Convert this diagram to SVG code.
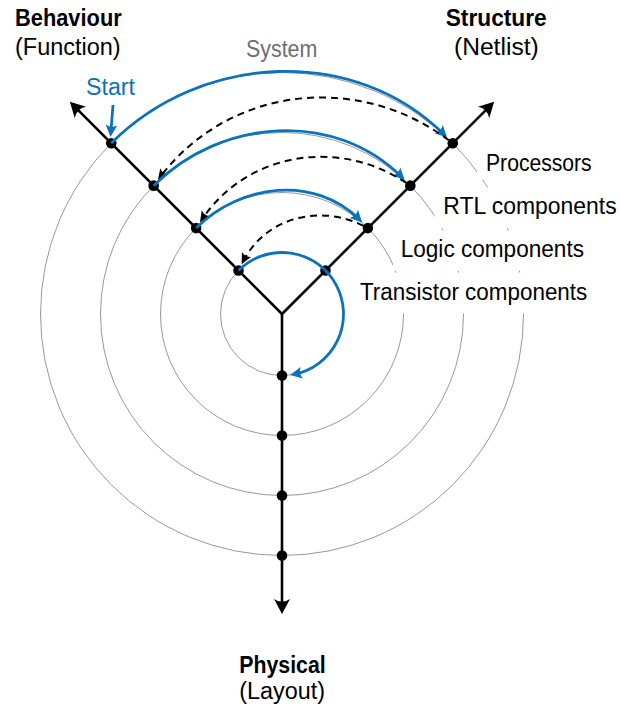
<svg xmlns="http://www.w3.org/2000/svg" width="620" height="711" viewBox="0 0 620 711">
<style>
  .circ { fill: none; stroke: #8c8c8c; stroke-width: 0.9; }
  .axis { fill: none; stroke: #000; stroke-width: 2.6; marker-end: url(#axh); }
  .blue { fill: none; stroke: #0b72bb; stroke-width: 2.8; marker-end: url(#bh); }
  .dash { fill: none; stroke: #000; stroke-width: 2; stroke-dasharray: 7 5; marker-end: url(#dh); }
  .dot { fill: #000; }
  .lbl { font-family: "Liberation Sans", Arial, sans-serif; font-size: 23.5px; fill: #000; }
  .b { font-weight: bold; }
  .box { fill: #fff; stroke: none; }
</style>
<defs>
  <marker id="axh" markerUnits="userSpaceOnUse" viewBox="-17 -10 19 20" markerWidth="19" markerHeight="20" refX="-5" refY="0" orient="auto">
    <path d="M0,0 L-15,-8 Q-9.5,0 -15,8 Z" fill="#000"/>
  </marker>
  <marker id="bh" markerUnits="userSpaceOnUse" viewBox="-14 -8 16 16" markerWidth="16" markerHeight="16" refX="-4" refY="0" orient="auto">
    <path d="M0,0 L-12,-5.8 Q-8.5,0 -12,5.8 Z" fill="#0b72bb"/>
  </marker>
  <marker id="dh" markerUnits="userSpaceOnUse" viewBox="-14 -8 16 16" markerWidth="16" markerHeight="16" refX="-3" refY="0" orient="auto">
    <path d="M0,0 L-11,-5.2 Q-7.5,0 -11,5.2 Z" fill="#000"/>
  </marker>
</defs>
<rect width="620" height="711" fill="#fff"/>

<g id="circles">
  <circle class="circ" cx="282" cy="314" r="61.5"/>
  <circle class="circ" cx="282" cy="314" r="121.5"/>
  <circle class="circ" cx="282" cy="314" r="181.5"/>
  <circle class="circ" cx="282" cy="314" r="241.5"/>
</g>

<g id="level-labels">
  <g id="label-processors">
    <rect class="box" x="477" y="144" width="124" height="35.5"/>
    <text class="lbl" x="486" y="170.7" textLength="105.7" lengthAdjust="spacingAndGlyphs">Processors</text>
  </g>
  <g id="label-rtl">
    <rect class="box" x="434.5" y="187.5" width="186" height="40.5"/>
    <text class="lbl" x="443.3" y="214" textLength="173.4" lengthAdjust="spacingAndGlyphs">RTL components</text>
  </g>
  <g id="label-logic">
    <rect class="box" x="393" y="230.5" width="200" height="40.2"/>
    <text class="lbl" x="400.7" y="256.7" textLength="183.3" lengthAdjust="spacingAndGlyphs">Logic components</text>
  </g>
  <g id="label-transistor">
    <rect class="box" x="351" y="272.7" width="245" height="40.8"/>
    <text class="lbl" x="360" y="300" textLength="227.3" lengthAdjust="spacingAndGlyphs">Transistor components</text>
  </g>
</g>

<g id="axes">
  <path class="axis" d="M282,314 L73.4,105.4"/>
  <path class="axis" d="M282,314 L490.6,105.4"/>
  <path class="axis" d="M282,314 L282,609"/>
</g>

<g id="nodes">
  <circle id="b1" class="dot" cx="238.51" cy="270.51" r="5.3"/>
  <circle id="b2" class="dot" cx="196.09" cy="228.09" r="5.3"/>
  <circle id="b3" class="dot" cx="153.66" cy="185.66" r="5.3"/>
  <circle id="b4" class="dot" cx="111.24" cy="143.24" r="5.3"/>
  <circle id="s1" class="dot" cx="325.49" cy="270.51" r="5.3"/>
  <circle id="s2" class="dot" cx="367.91" cy="228.09" r="5.3"/>
  <circle id="s3" class="dot" cx="410.34" cy="185.66" r="5.3"/>
  <circle id="s4" class="dot" cx="452.76" cy="143.24" r="5.3"/>
  <circle id="p1" class="dot" cx="282" cy="375.5" r="5.3"/>
  <circle id="p2" class="dot" cx="282" cy="435.5" r="5.3"/>
  <circle id="p3" class="dot" cx="282" cy="495.5" r="5.3"/>
  <circle id="p4" class="dot" cx="282" cy="555.5" r="5.3"/>
</g>

<g id="connectors">
  <path class="blue" d="M111.24,143.24 C201.2,53.2 354.3,44.75 444.3,134.75"/>
  <path class="dash" d="M448.76,140.24 C357.6,71.7 228.2,86.5 159.67,177.67"/>
  <path class="blue" d="M153.66,185.66 C221.2,118.2 334.4,109.7 401.85,177.17"/>
  <path class="dash" d="M406.2,182.9 C338.6,137.6 246.9,152.2 201.65,219.78"/>
  <path class="blue" d="M196.09,228.09 C240.6,183.6 314.9,175.1 359.42,219.6"/>
  <path class="dash" d="M363.45,225.83 C319.55,203.6 265.2,217.7 243.0,261.6"/>
  <path class="blue" d="M238.51,270.51 A61.5,61.5 0 1 1 293.95,374.33"/>
  <path class="blue" d="M113,105 L110.8,133"/>
</g>

<g id="titles">
  <g id="behaviour">
    <text class="lbl b" x="15" y="26" textLength="106.7" lengthAdjust="spacingAndGlyphs">Behaviour</text>
    <text class="lbl" x="15" y="55" textLength="105.7" lengthAdjust="spacingAndGlyphs">(Function)</text>
  </g>
  <g id="structure">
    <text class="lbl b" x="445.7" y="26" textLength="101" lengthAdjust="spacingAndGlyphs">Structure</text>
    <text class="lbl" x="454" y="55" textLength="84.7" lengthAdjust="spacingAndGlyphs">(Netlist)</text>
  </g>
  <g id="physical">
    <text class="lbl b" x="239.3" y="673.3" textLength="86.4" lengthAdjust="spacingAndGlyphs">Physical</text>
    <text class="lbl" x="239.3" y="699" textLength="85.7" lengthAdjust="spacingAndGlyphs">(Layout)</text>
  </g>
  <text id="system" class="lbl" x="246" y="57" textLength="71.3" lengthAdjust="spacingAndGlyphs" style="fill:#6e6e6e">System</text>
  <text id="start" class="lbl" x="86" y="94.5" textLength="49" lengthAdjust="spacingAndGlyphs" style="fill:#0b72bb">Start</text>
</g>
</svg>
